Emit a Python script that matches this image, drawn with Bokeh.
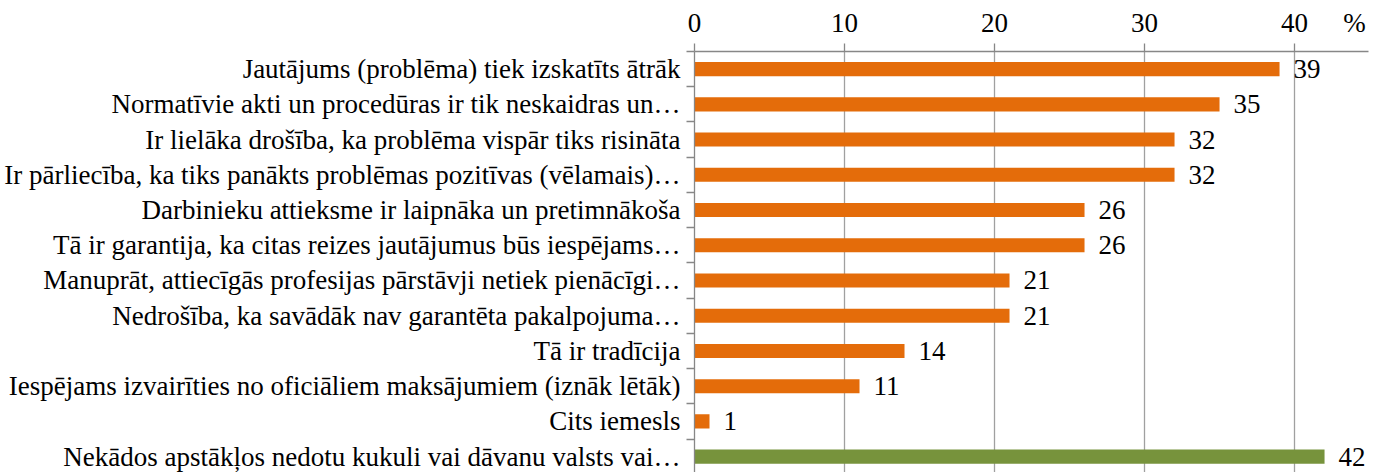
from bokeh.plotting import figure
from bokeh.models import ColumnDataSource, FixedTicker, Range1d, LinearAxis
from bokeh.core.properties import value
from bokeh.embed import file_html
from bokeh.resources import INLINE

categories = [
    "Jautājums (problēma) tiek izskatīts ātrāk",
    "Normatīvie akti un procedūras ir tik neskaidras un…",
    "Ir lielāka drošība, ka problēma vispār tiks risināta",
    "Ir pārliecība, ka tiks panākts problēmas pozitīvas (vēlamais)…",
    "Darbinieku attieksme ir laipnāka un pretimnākoša",
    "Tā ir garantija, ka citas reizes jautājumus būs iespējams…",
    "Manuprāt, attiecīgās profesijas pārstāvji netiek pienācīgi…",
    "Nedrošība, ka savādāk nav garantēta pakalpojuma…",
    "Tā ir tradīcija",
    "Iespējams izvairīties no oficiāliem maksājumiem (iznāk lētāk)",
    "Cits iemesls",
    "Nekādos apstākļos nedotu kukuli vai dāvanu valsts vai…",
]
values = [39, 35, 32, 32, 26, 26, 21, 21, 14, 11, 1, 42]
groups = ["reason"] * 11 + ["never"]
x_ticks = [0, 10, 20, 30, 40]
unit_label = "%"
unit_pos = 44

FONT = "Liberation Serif"
FS = "27px"
ORANGE = "#E46C0A"
GREEN = "#77933C"
GRID = "#A0A0A0"
AXIS = "#878787"

idx = list(range(len(categories)))
colors = [GREEN if g == "never" else ORANGE for g in groups]
src = ColumnDataSource(dict(y=idx, v=values, c=colors, t=[str(v) for v in values]))

p = figure(width=1380, height=472, output_backend="svg", toolbar_location=None,
           x_range=Range1d(0, 44.93), y_range=Range1d(11.45, -0.5),
           x_axis_location=None, y_axis_location=None,
           min_border_left=694, min_border_right=12, min_border_top=51,
           min_border_bottom=0, background_fill_color="white",
           border_fill_color="white")
p.outline_line_color = None

# top x axis: labelled major ticks (incl. the unit sign); visible tick marks drawn as minor ticks
xa = LinearAxis(ticker=FixedTicker(ticks=x_ticks + [unit_pos], minor_ticks=x_ticks))
xa.major_label_overrides = {**{t: str(t) for t in x_ticks}, unit_pos: unit_label}
xa.axis_line_color = AXIS
xa.axis_line_width = 1.3
xa.major_tick_out = 0
xa.major_tick_in = 0
xa.major_tick_line_color = None
xa.minor_tick_out = 8
xa.minor_tick_in = 0
xa.minor_tick_line_color = AXIS
xa.minor_tick_line_width = 1.3
xa.major_label_text_font = FONT
xa.major_label_text_font_size = FS
xa.major_label_text_color = "black"
xa.major_label_standoff = 6
p.add_layout(xa, "above")

# left category axis (numeric positions, boundary ticks drawn as minor ticks)
ya = LinearAxis(ticker=FixedTicker(ticks=idx, minor_ticks=[i - 0.5 for i in range(len(idx) + 1)]))
ya.major_label_overrides = {i: c for i, c in zip(idx, categories)}
ya.axis_line_color = AXIS
ya.axis_line_width = 1.3
ya.major_tick_out = 0
ya.major_tick_in = 0
ya.major_tick_line_color = None
ya.minor_tick_out = 8
ya.minor_tick_in = 0
ya.minor_tick_line_color = AXIS
ya.minor_tick_line_width = 1.3
ya.major_label_text_font = FONT
ya.major_label_text_font_size = FS
ya.major_label_text_color = "black"
ya.major_label_standoff = 6
p.add_layout(ya, "left")

p.xgrid.ticker = FixedTicker(ticks=x_ticks, minor_ticks=[])
p.xgrid.grid_line_color = GRID
p.xgrid.grid_line_width = 1.3
p.ygrid.grid_line_color = None

p.hbar(y="y", right="v", left=0, height=0.4, color="c", line_color=None, source=src)
p.text(x="v", y="y", text="t", x_offset=14, text_baseline="middle", text_align="left",
       text_font=value(FONT), text_font_size=FS, text_color="black", source=src)

open("out.html", "w").write(file_html(p, INLINE))
